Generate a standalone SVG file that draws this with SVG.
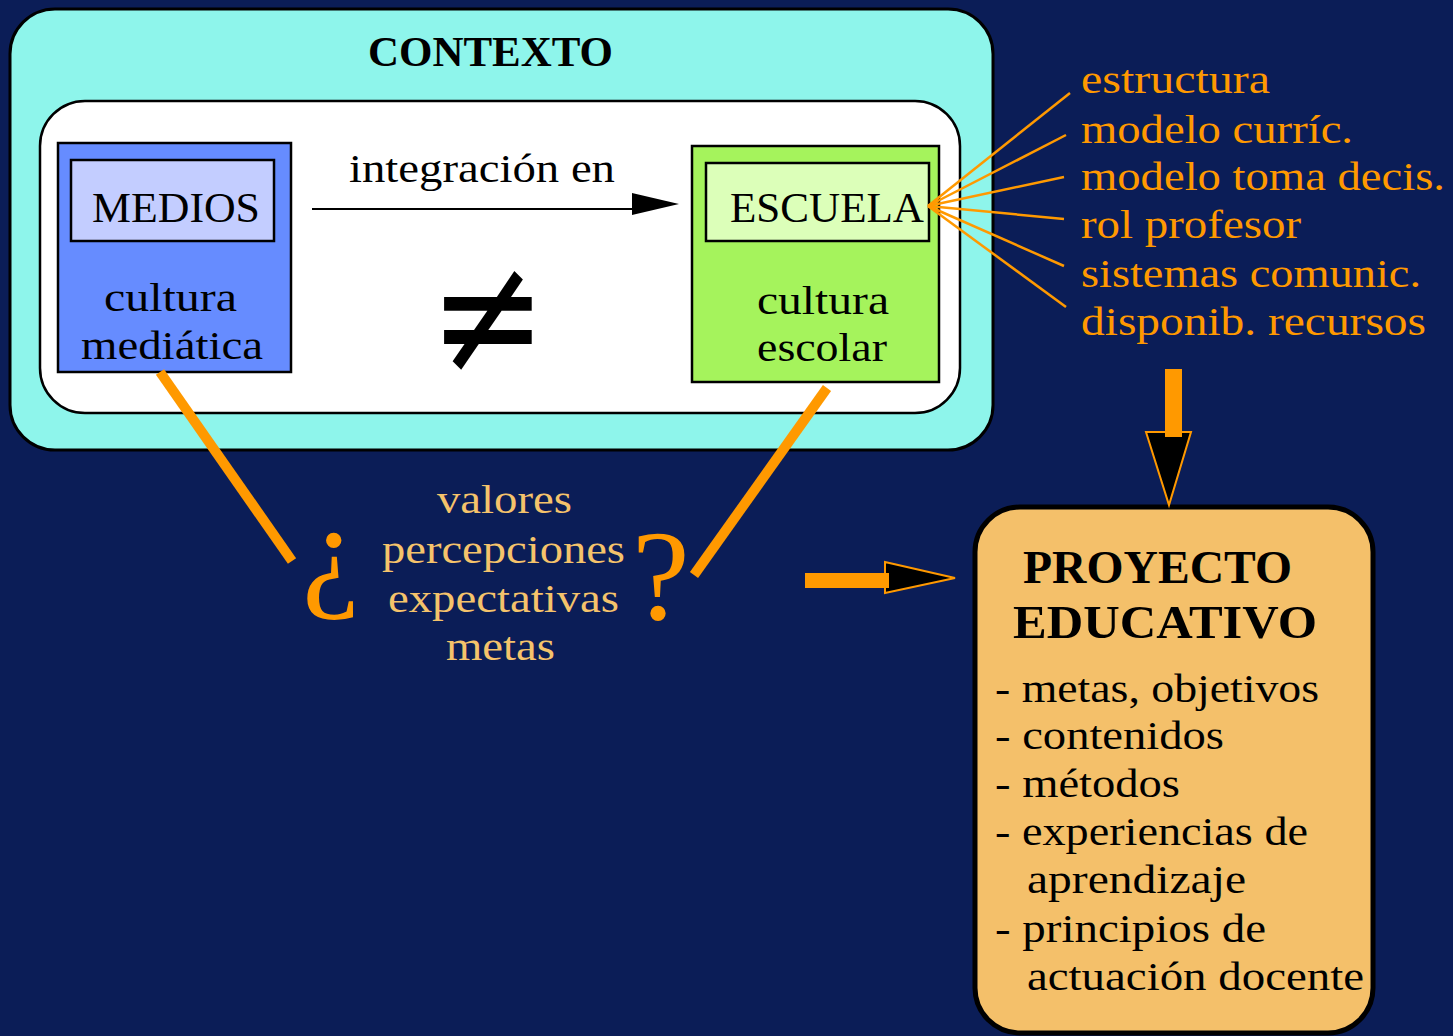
<svg xmlns="http://www.w3.org/2000/svg" width="1453" height="1036" viewBox="0 0 1453 1036">
<style>
.t{font-family:"Liberation Serif","Times New Roman",serif;font-size:40px;fill:#000}
.b{font-weight:bold}
.s42{font-size:42px}
.s46{font-size:46px}
.big{font-size:130px}
.or{fill:#ff9900}
.tan{fill:#f5c36b}
.box{stroke:#000;stroke-width:2.5}
</style>
<rect x="0" y="0" width="1453" height="1036" fill="#0b1d57"/>
<g id="contexto">
<rect x="10" y="9" width="983" height="441" rx="45" fill="#8ef5eb" stroke="#000" stroke-width="3"/>
<text class="t b s42" x="368" y="66" textLength="245" lengthAdjust="spacingAndGlyphs">CONTEXTO</text>
<rect x="40" y="101" width="920" height="312" rx="45" fill="#fff" stroke="#000" stroke-width="2.5"/>
</g>
<g id="medios">
<rect class="box" x="58" y="143" width="233" height="229" fill="#668cff"/>
<rect class="box" x="71" y="160" width="203" height="81" fill="#c3cdff"/>
<text class="t s42" x="92" y="222" textLength="168" lengthAdjust="spacingAndGlyphs">MEDIOS</text>
<text class="t" x="104" y="311" textLength="133" lengthAdjust="spacingAndGlyphs">cultura</text>
<text class="t" x="81" y="359" textLength="182" lengthAdjust="spacingAndGlyphs">mediática</text>
</g>
<g id="escuela">
<rect class="box" x="692" y="146" width="247" height="236" fill="#a5f35c"/>
<rect class="box" x="706" y="163" width="223" height="78" fill="#dcffb9"/>
<text class="t s42" x="730" y="222" textLength="194" lengthAdjust="spacingAndGlyphs">ESCUELA</text>
<text class="t" x="757" y="314" textLength="132" lengthAdjust="spacingAndGlyphs">cultura</text>
<text class="t" x="757" y="361" textLength="130" lengthAdjust="spacingAndGlyphs">escolar</text>
</g>
<g id="distinto">
<text x="0" y="0" transform="translate(488,318) scale(1,1.2)" dy="46" font-family="DejaVu Sans, sans-serif" font-size="140" text-anchor="middle" fill="#000">≠</text>
</g>
<g id="factores">
<text class="t or" x="1081" y="93" textLength="189" lengthAdjust="spacingAndGlyphs">estructura</text>
<text class="t or" x="1081" y="143" textLength="272" lengthAdjust="spacingAndGlyphs">modelo curríc.</text>
<text class="t or" x="1081" y="190" textLength="364" lengthAdjust="spacingAndGlyphs">modelo toma decis.</text>
<text class="t or" x="1081" y="238" textLength="220" lengthAdjust="spacingAndGlyphs">rol profesor</text>
<text class="t or" x="1081" y="287" textLength="340" lengthAdjust="spacingAndGlyphs">sistemas comunic.</text>
<text class="t or" x="1081" y="335" textLength="345" lengthAdjust="spacingAndGlyphs">disponib. recursos</text>
</g>
<g id="valores">
<text class="t or big" x="302" y="593">¿</text>
<text class="t tan" x="437" y="513" textLength="135" lengthAdjust="spacingAndGlyphs">valores</text>
<text class="t tan" x="382" y="563" textLength="243" lengthAdjust="spacingAndGlyphs">percepciones</text>
<text class="t tan" x="388" y="612" textLength="231" lengthAdjust="spacingAndGlyphs">expectativas</text>
<text class="t tan" x="446" y="660" textLength="109" lengthAdjust="spacingAndGlyphs">metas</text>
<text class="t or big" x="632" y="619">?</text>
</g>
<g id="proyecto">
<rect x="975" y="507" width="398" height="526" rx="45" fill="#f4c06a" stroke="#000" stroke-width="5"/>
<text class="t b s46" x="1023" y="583" textLength="269" lengthAdjust="spacingAndGlyphs">PROYECTO</text>
<text class="t b s46" x="1013" y="638" textLength="304" lengthAdjust="spacingAndGlyphs">EDUCATIVO</text>
<text class="t" x="995" y="702" textLength="324" lengthAdjust="spacingAndGlyphs">- metas, objetivos</text>
<text class="t" x="995" y="749" textLength="229" lengthAdjust="spacingAndGlyphs">- contenidos</text>
<text class="t" x="995" y="797" textLength="185" lengthAdjust="spacingAndGlyphs">- métodos</text>
<text class="t" x="995" y="845" textLength="313" lengthAdjust="spacingAndGlyphs">- experiencias de</text>
<text class="t" x="1027" y="893" textLength="219" lengthAdjust="spacingAndGlyphs">aprendizaje</text>
<text class="t" x="995" y="942" textLength="271" lengthAdjust="spacingAndGlyphs">- principios de</text>
<text class="t" x="1027" y="990" textLength="337" lengthAdjust="spacingAndGlyphs">actuación docente</text>
</g>
<g id="connectors">
<line x1="312" y1="209" x2="634" y2="209" stroke="#000" stroke-width="2"/>
<polygon points="632,193 679,204 632,215" fill="#000"/>
<text class="t" x="349" y="182" textLength="266" lengthAdjust="spacingAndGlyphs">integración en</text>
<g stroke="#ff9900" stroke-width="2.5" fill="none">
<line x1="928" y1="206" x2="1070" y2="93"/>
<line x1="928" y1="206" x2="1066" y2="135"/>
<line x1="928" y1="206" x2="1064" y2="177"/>
<line x1="928" y1="206" x2="1064" y2="219"/>
<line x1="928" y1="206" x2="1064" y2="266"/>
<line x1="928" y1="206" x2="1066" y2="307"/>
</g>
<line x1="160" y1="372" x2="292" y2="561" stroke="#ff9900" stroke-width="10"/>
<line x1="827" y1="388" x2="694" y2="575" stroke="#ff9900" stroke-width="10"/>
<polygon points="1146,432 1191,432 1169,505" fill="#000" stroke="#ff9900" stroke-width="2"/>
<rect x="1165" y="369" width="17" height="68" fill="#ff9900"/>
<polygon points="885,562 955,578 885,593" fill="#000" stroke="#ff9900" stroke-width="2"/>
<rect x="805" y="573" width="84" height="15" fill="#ff9900"/>
</g>
</svg>
